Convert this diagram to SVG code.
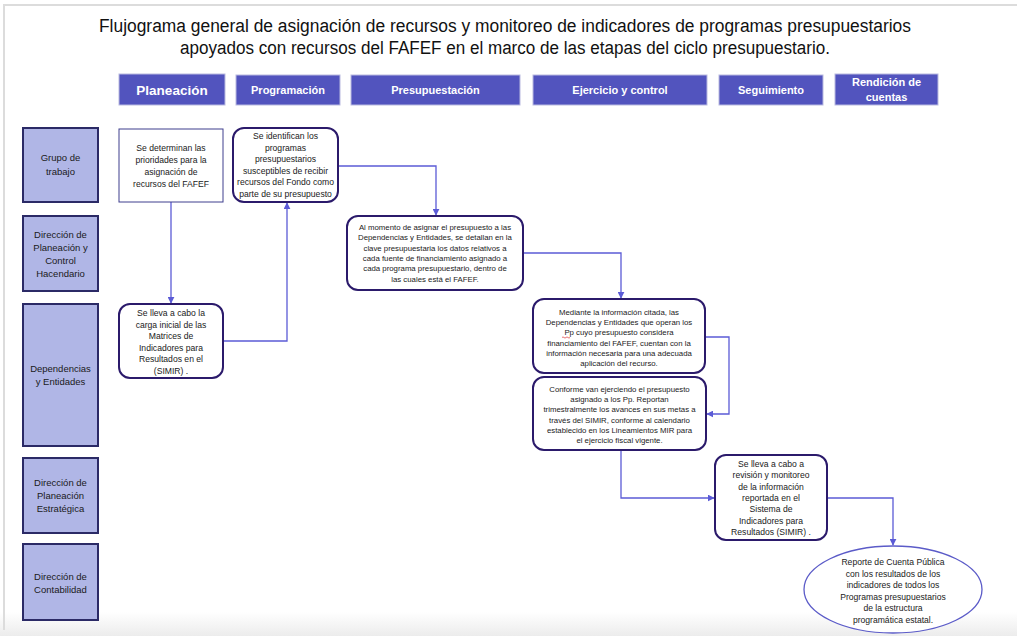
<svg xmlns="http://www.w3.org/2000/svg" width="1017" height="636" viewBox="0 0 1017 636">
<defs>
<style>
.title{font-family:"Liberation Sans",Arial,sans-serif;font-size:18px;fill:#111}
.phase{fill:#5254BE;stroke:#B9BAE0;stroke-width:1}
.phase-t{font-family:"Liberation Sans",Arial,sans-serif;font-weight:bold;fill:#fff;text-anchor:middle;font-size:11px}
.lane{fill:#B0B6E6;stroke:#2B2A66;stroke-width:2}
.lane-t{font-family:"Liberation Sans",Arial,sans-serif;font-size:9.5px;fill:#1a1a1a;text-anchor:middle}
.box{fill:#fff;stroke:#2B1A6B;stroke-width:2}
.sq{fill:#fff;stroke:#3E3E8E;stroke-width:1}
.ell{fill:#fff;stroke:#5B5BC8;stroke-width:1.3}
.t{font-family:"Liberation Sans",Arial,sans-serif;font-size:8.6px;fill:#1a1a1a;text-anchor:middle}
.ts{font-family:"Liberation Sans",Arial,sans-serif;font-size:7.8px;fill:#1a1a1a;text-anchor:middle}
.conn{fill:none;stroke:#5B5BD6;stroke-width:1.3}
</style>
<marker id="arr" viewBox="0 0 10 10" refX="9" refY="5" markerWidth="7" markerHeight="7" markerUnits="userSpaceOnUse" orient="auto">
<path d="M0,0 L10,5 L0,10 z" fill="#5B5BD6"/>
</marker>
<linearGradient id="bot" x1="0" y1="0" x2="0" y2="1">
<stop offset="0" stop-color="#ffffff"/>
<stop offset="1" stop-color="#ececec"/>
</linearGradient>
</defs>
<rect x="0" y="0" width="1017" height="636" fill="#fff"/>
<rect x="0" y="612" width="1017" height="24" fill="url(#bot)"/>
<line x1="3" y1="5" x2="1017" y2="5" stroke="#dcdcdc" stroke-width="2"/>
<line x1="4" y1="5" x2="4" y2="630" stroke="#dcdcdc" stroke-width="2"/>

<g id="title">
<text class="title" x="505" y="32" text-anchor="middle" textLength="812" lengthAdjust="spacingAndGlyphs">Flujograma general de asignación de recursos y monitoreo de indicadores de programas presupuestarios</text>
<text class="title" x="505" y="54" text-anchor="middle" textLength="650" lengthAdjust="spacingAndGlyphs">apoyados con recursos del FAFEF en el marco de las etapas del ciclo presupuestario.</text>
</g>

<g id="phases">
<g id="ph-planeacion"><rect class="phase" x="119" y="74" width="106" height="31"/><text class="phase-t" x="172" y="95" style="font-size:13.5px">Planeación</text></g>
<g id="ph-programacion"><rect class="phase" x="236" y="75" width="104" height="30"/><text class="phase-t" x="288" y="94">Programación</text></g>
<g id="ph-presupuestacion"><rect class="phase" x="351" y="75" width="169" height="30"/><text class="phase-t" x="435.5" y="94">Presupuestación</text></g>
<g id="ph-ejercicio"><rect class="phase" x="533" y="75" width="174" height="30"/><text class="phase-t" x="620" y="94">Ejercicio y control</text></g>
<g id="ph-seguimiento"><rect class="phase" x="719" y="75" width="104" height="30"/><text class="phase-t" x="771" y="94">Seguimiento</text></g>
<g id="ph-rendicion"><rect class="phase" x="835" y="74" width="103" height="31"/><text class="phase-t" x="886.5" y="86">Rendición de</text><text class="phase-t" x="886.5" y="101">cuentas</text></g>
</g>

<g id="lanes">
<g id="lane-grupo"><rect class="lane" x="23" y="128" width="75" height="74"/><text class="lane-t" x="60.5" y="161">Grupo de</text><text class="lane-t" x="60.5" y="175">trabajo</text></g>
<g id="lane-dpch"><rect class="lane" x="23" y="216" width="75" height="75"/><text class="lane-t" x="60.5" y="237.5">Dirección de</text><text class="lane-t" x="60.5" y="250.5">Planeación y</text><text class="lane-t" x="60.5" y="263.5">Control</text><text class="lane-t" x="60.5" y="276.5">Hacendario</text></g>
<g id="lane-dep"><rect class="lane" x="23" y="304" width="75" height="142"/><text class="lane-t" x="60.5" y="371.5">Dependencias</text><text class="lane-t" x="60.5" y="385">y Entidades</text></g>
<g id="lane-dpe"><rect class="lane" x="23" y="458" width="75" height="75"/><text class="lane-t" x="60.5" y="485.5">Dirección de</text><text class="lane-t" x="60.5" y="498.5">Planeación</text><text class="lane-t" x="60.5" y="511.5">Estratégica</text></g>
<g id="lane-dc"><rect class="lane" x="23" y="544" width="75" height="76"/><text class="lane-t" x="60.5" y="579.5">Dirección de</text><text class="lane-t" x="60.5" y="592.5">Contabilidad</text></g>
</g>

<g id="connectors">
<path class="conn" d="M171,202 V303" marker-end="url(#arr)"/>
<path class="conn" d="M223,341 H287 V203" marker-end="url(#arr)"/>
<path class="conn" d="M338,166 H436 V215" marker-end="url(#arr)"/>
<path class="conn" d="M523,253 H621 V298" marker-end="url(#arr)"/>
<path class="conn" d="M705,337 H729 V414 H707" marker-end="url(#arr)"/>
<path class="conn" d="M621,450 V498 H714" marker-end="url(#arr)"/>
<path class="conn" d="M827,498 H893 V545" marker-end="url(#arr)"/>
</g>

<g id="n1">
<rect class="sq" x="119" y="129" width="104" height="73"/>
<text class="t" x="171" y="151">Se determinan las</text>
<text class="t" x="171" y="163">prioridades para la</text>
<text class="t" x="171" y="175">asignación de</text>
<text class="t" x="171" y="187">recursos del FAFEF</text>
</g>

<g id="n2">
<rect class="box" x="233" y="128" width="105" height="74" rx="11"/>
<text class="t" x="285.5" y="139">Se identifican los</text>
<text class="t" x="285.5" y="150.5">programas</text>
<text class="t" x="285.5" y="162">presupuestarios</text>
<text class="t" x="285.5" y="173.5">susceptibles de recibir</text>
<text class="t" x="285.5" y="185">recursos del Fondo como</text>
<text class="t" x="285.5" y="196.5">parte de su presupuesto</text>
</g>

<g id="n3">
<rect class="box" x="119" y="304" width="104" height="74" rx="11"/>
<text class="t" x="171" y="316">Se lleva a cabo la</text>
<text class="t" x="171" y="327.5">carga inicial de las</text>
<text class="t" x="171" y="339">Matrices de</text>
<text class="t" x="171" y="350.5">Indicadores para</text>
<text class="t" x="171" y="362">Resultados en el</text>
<text class="t" x="171" y="373.5">(SIMIR) .</text>
</g>

<g id="n4">
<rect class="box" x="347" y="216" width="176" height="74" rx="11"/>
<text class="ts" x="435" y="230">Al momento de asignar el presupuesto a las</text>
<text class="ts" x="435" y="240.3">Dependencias y Entidades, se detallan en la</text>
<text class="ts" x="435" y="250.6">clave presupuestaria los datos relativos a</text>
<text class="ts" x="435" y="260.9">cada fuente de financiamiento asignado a</text>
<text class="ts" x="435" y="271.2">cada programa presupuestario, dentro de</text>
<text class="ts" x="435" y="281.5">las cuales está el FAFEF.</text>
</g>

<g id="n5">
<rect class="box" x="533" y="299" width="172" height="74" rx="11"/>
<text class="ts" x="619" y="315">Mediante la información citada, las</text>
<text class="ts" x="619" y="325.2">Dependencias y Entidades que operan los</text>
<text class="ts" x="619" y="335.4">Pp cuyo presupuesto considera</text>
<text class="ts" x="619" y="345.6">financiamiento del FAFEF, cuentan con la</text>
<text class="ts" x="619" y="355.8">información necesaria para una adecuada</text>
<text class="ts" x="619" y="366">aplicación del recurso.</text>
<path d="M562,337.5 q1,-1.2 2,0 t2,0 t2,0 t2,0" fill="none" stroke="#d33" stroke-width="0.7"/>
</g>

<g id="n6">
<rect class="box" x="533" y="377" width="173" height="73" rx="11"/>
<text class="ts" x="619.5" y="392">Conforme van ejerciendo el presupuesto</text>
<text class="ts" x="619.5" y="402.2">asignado a los Pp. Reportan</text>
<text class="ts" x="619.5" y="412.4">trimestralmente los avances en sus metas a</text>
<text class="ts" x="619.5" y="422.6">través del SIMIR, conforme al calendario</text>
<text class="ts" x="619.5" y="432.8">establecido en los Lineamientos MIR para</text>
<text class="ts" x="619.5" y="443">el ejercicio fiscal vigente.</text>
</g>

<g id="n7">
<rect class="box" x="715" y="455" width="112" height="85" rx="11"/>
<text class="t" x="771" y="467">Se lleva a cabo a</text>
<text class="t" x="771" y="478.3">revisión y monitoreo</text>
<text class="t" x="771" y="489.6">de la información</text>
<text class="t" x="771" y="500.9">reportada en el</text>
<text class="t" x="771" y="512.2">Sistema de</text>
<text class="t" x="771" y="523.5">Indicadores para</text>
<text class="t" x="771" y="534.8">Resultados (SIMIR) .</text>
</g>

<g id="n8">
<ellipse class="ell" cx="893" cy="589.5" rx="89" ry="43.5"/>
<text class="t" x="893" y="565">Reporte de Cuenta Pública</text>
<text class="t" x="893" y="576.6">con los resultados de los</text>
<text class="t" x="893" y="588.2">indicadores de todos los</text>
<text class="t" x="893" y="599.8">Programas presupuestarios</text>
<text class="t" x="893" y="611.4">de la estructura</text>
<text class="t" x="893" y="623">programática estatal.</text>
</g>
</svg>
